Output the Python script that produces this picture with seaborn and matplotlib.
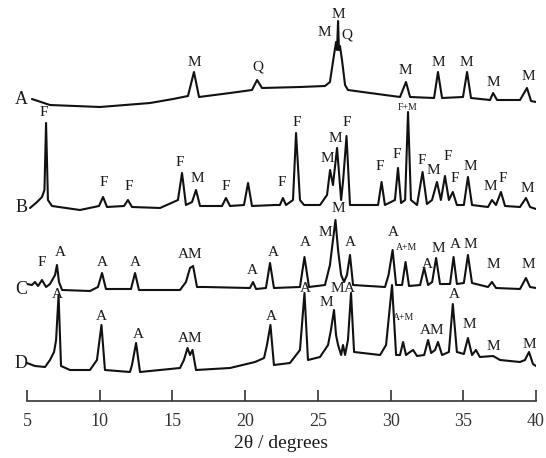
import pandas as pd
import matplotlib
matplotlib.use('Agg')
import matplotlib.pyplot as plt
import seaborn as sns

# XRD patterns: 2theta (deg) and intensity above each pattern's own baseline (arb. units)
A_2THETA = [5.34, 6.58, 10.02, 13.46, 15.04, 16.07, 16.48, 16.83, 18.96, 20.47, 20.82, 21.16,
            23.77, 25.49, 25.83, 26.11, 26.25, 26.32, 26.39, 26.45, 26.52, 26.66, 26.87, 27.07,
            28.59, 30.65, 31.06, 31.34, 32.99, 33.26, 33.54, 34.98, 35.26, 35.53, 36.84, 37.05,
            37.32, 38.90, 39.38, 39.66, 40.0]
A_INT = [1, -5, -7, -3, 1, 4, 28, 3, 7, 10, 20, 12,
         13, 14, 18, 45, 58, 50, 79, 50, 54, 40, 15, 10,
         7, 3, 18, 3, 2, 28, 2, 3, 28, 2, 0, 7,
         0, 0, 12, -1, -2]

B_2THETA = [5.21, 5.69, 6.03, 6.20, 6.31, 6.44, 6.72, 8.64, 9.95, 10.23, 10.50, 11.67, 11.94,
            12.22, 14.15, 15.38, 15.66, 15.93, 16.35, 16.62, 16.90, 18.41, 18.68, 18.96, 19.92,
            20.20, 20.47, 22.05, 22.39, 22.60, 22.81, 23.29, 23.50, 23.77, 24.05, 25.15, 25.63,
            25.84, 26.04, 26.32, 26.60, 26.74, 26.97, 27.21, 29.14, 29.38, 29.61, 30.30, 30.51,
            30.72, 31.00, 31.20, 31.40, 31.82, 32.20, 32.50, 32.85, 33.19, 33.46, 33.74, 34.01,
            34.28, 34.56, 35.04, 35.32, 35.60, 36.70, 36.97, 37.25, 37.59, 37.87, 38.90, 39.31,
            39.59, 40.0]
B_INT = [0, 6, 11, 18, 85, 8, 2, -2, 2, 11, 1, 2, 8,
         1, 0, 8, 35, 3, 6, 18, 2, 2, 10, 2, 3,
         25, 2, 3, 3, 10, 3, 8, 75, 8, 3, 3, 13,
         38, 23, 60, 8, 28, 72, 3, 3, 26, 3, 8, 40,
         5, 8, 96, 8, 3, 36, 4, 8, 26, 8, 32, 8,
         16, 3, 3, 31, 3, 1, 8, 3, 16, 2, 1, 10,
         1, -1]

C_2THETA = [5.0, 5.34, 5.55, 5.76, 6.03, 6.31, 6.58, 6.93, 7.06, 7.20, 7.41, 9.33, 9.88, 10.16,
            10.43, 12.15, 12.43, 12.70, 15.52, 15.93, 16.21, 16.42, 16.69, 17.24, 20.33, 20.54,
            20.75, 21.43, 21.71, 21.98, 23.77, 24.08, 24.39, 25.49, 25.83, 26.04, 26.21, 26.39,
            26.60, 26.80, 27.00, 27.21, 27.42, 29.62, 29.86, 30.14, 30.38, 30.79, 31.03, 31.27,
            32.03, 32.31, 32.58, 32.86, 33.13, 33.40, 34.09, 34.33, 34.56, 35.04, 35.32, 35.60,
            36.70, 36.97, 37.25, 38.90, 39.31, 39.59, 40.0]
C_INT = [6, 5, 8, 4, 10, 3, 6, 15, 25, 8, 0, -1, 3, 17,
         1, 1, 17, 0, 0, 8, 22, 24, 3, 3, 2, 8,
         1, 2, 27, 2, 3, 33, 3, 5, 25, 50, 70, 40,
         15, 8, 15, 35, 5, 3, 15, 40, 5, 5, 28, 4,
         5, 22, 5, 8, 32, 6, 6, 33, 6, 7, 35, 7,
         3, 8, 2, 1, 12, 3, 2]

D_2THETA = [5.0, 5.55, 6.24, 6.58, 6.86, 7.00, 7.17, 7.34, 7.96, 9.33, 9.81, 10.12, 10.36,
            12.08, 12.22, 12.50, 12.77, 15.52, 15.79, 16.04, 16.21, 16.38, 16.62, 18.96, 20.68,
            21.30, 21.50, 21.74, 21.98, 23.08, 23.77, 24.08, 24.32, 25.15, 25.70, 25.90, 26.11,
            26.25, 26.39, 26.60, 26.73, 26.87, 27.07, 27.28, 27.49, 29.28, 29.69, 30.10, 30.38,
            30.65, 30.86, 31.06, 31.34, 31.55, 31.82, 32.31, 32.58, 32.79, 33.06, 33.26, 33.54,
            34.01, 34.28, 34.56, 35.04, 35.32, 35.60, 35.87, 36.14, 37.05, 37.53, 38.90, 39.24,
            39.52, 39.79, 40.0]
D_INT = [2, -1, -2, 5, 13, 25, 70, -1, -5, -5, 5, 40, -5,
         -7, 0, 22, -7, -3, 5, 17, 10, 15, -5, -3, 3,
         7, 20, 40, 0, 2, 15, 72, 5, 8, 20, 35, 55,
         30, 20, 10, 20, 10, 25, 72, 13, 10, 20, 80, 10,
         10, 23, 10, 13, 15, 9, 10, 25, 12, 15, 23, 10,
         13, 61, 13, 11, 27, 10, 15, 8, 9, 5, 3, 5,
         13, 1, -1]

# phase labels: (text, 2theta, height above the pattern baseline)
A_LABELS = [('M', 16.48, 38), ('Q', 20.88, 33), ('M', 25.42, 68), ('M', 26.38, 85),
            ('Q', 27.0, 65), ('M', 30.99, 30), ('M', 33.26, 37), ('M', 35.19, 37),
            ('M', 37.04, 17), ('M', 39.45, 23)]
B_LABELS = [('F', 6.17, 95), ('F', 10.29, 26), ('F', 12.01, 21), ('F', 15.52, 45),
            ('M', 16.69, 30), ('F', 18.68, 21), ('F', 22.53, 26), ('F', 23.57, 85),
            ('M', 25.63, 50), ('M', 26.18, 70), ('F', 27.0, 86), ('F', 29.27, 41),
            ('F', 30.44, 53), ('F+M', 31.20, 101), ('F', 32.16, 48), ('M', 32.92, 38),
            ('F', 33.95, 51), ('F', 34.43, 30), ('M', 35.46, 41), ('M', 36.84, 21),
            ('F', 37.73, 30), ('M', 39.38, 20)]
C_LABELS = [('F', 6.03, 27), ('A', 7.27, 37), ('A', 10.16, 28), ('A', 12.43, 27),
            ('AM', 16.21, 35), ('A', 20.47, 20), ('A', 21.92, 38), ('A', 24.12, 47),
            ('M', 25.49, 58), ('M', 26.39, 82), ('A', 27.21, 48), ('A', 30.17, 58),
            ('A+M', 31.13, 42), ('A', 32.51, 25), ('M', 33.26, 42), ('A', 34.43, 45),
            ('M', 35.46, 45), ('M', 37.04, 25), ('M', 39.45, 25)]
D_LABELS = [('A', 7.06, 70), ('A', 10.09, 48), ('A', 12.63, 30), ('AM', 16.21, 27),
            ('A', 21.78, 48), ('A', 24.12, 77), ('M', 25.56, 62), ('M', 26.32, 77),
            ('A', 27.14, 77), ('A+M', 30.92, 48), ('AM', 32.85, 35), ('A', 34.36, 70),
            ('M', 35.39, 40), ('M', 37.04, 18), ('M', 39.52, 20)]

SAMPLES = ['A', 'B', 'C', 'D']
patterns = {'A': (A_2THETA, A_INT, A_LABELS), 'B': (B_2THETA, B_INT, B_LABELS),
            'C': (C_2THETA, C_INT, C_LABELS), 'D': (D_2THETA, D_INT, D_LABELS)}
offsets = {'A': 358, 'B': 250, 'C': 168, 'D': 93}   # vertical stacking

frames = []
for s in SAMPLES:
    tt, inten, _ = patterns[s]
    frames.append(pd.DataFrame({'sample': s, 'two_theta': tt,
                                'y': [v + offsets[s] for v in inten]}))
df = pd.concat(frames, ignore_index=True)

sns.set_style('white')
plt.rcParams['font.family'] = ['Liberation Serif', 'DejaVu Serif']

fig = plt.figure(figsize=(5.46, 4.58), dpi=100)
ax = fig.add_axes([27 / 546, 57 / 458, 509 / 546, 401 / 458])

sns.lineplot(data=df, x='two_theta', y='y', hue='sample', units='sample', estimator=None,
             sort=False, palette=['#111111'] * 4, linewidth=1.5, legend=False, ax=ax)

ink = '#1a1a1a'
for s in SAMPLES:
    off = offsets[s]
    ax.text(5.05, off + 1, s, ha='right', va='center', fontsize=13, color=ink)
    for txt, x, h in patterns[s][2]:
        small = '+' in txt
        ax.text(x, off + h, txt, ha='center', va='center',
                fontsize=7 if small else 11, color=ink)

ax.set_xlim(5, 40)
ax.set_ylim(57, 458)
ax.set_xticks(range(5, 41, 5))
ax.set_yticks([])
ax.tick_params(axis='x', bottom=True, direction='in', length=8, width=1.2, pad=9,
               labelsize=13, colors='#333333')
for side in ['left', 'right', 'top']:
    ax.spines[side].set_visible(False)
ax.spines['bottom'].set_linewidth(1.2)
ax.spines['bottom'].set_color('#333333')
ax.set_xlabel('2θ / degrees', fontsize=14, labelpad=3, color=ink)
ax.set_ylabel('')
ax.patch.set_alpha(0)

fig.savefig('out.png', dpi=100)
